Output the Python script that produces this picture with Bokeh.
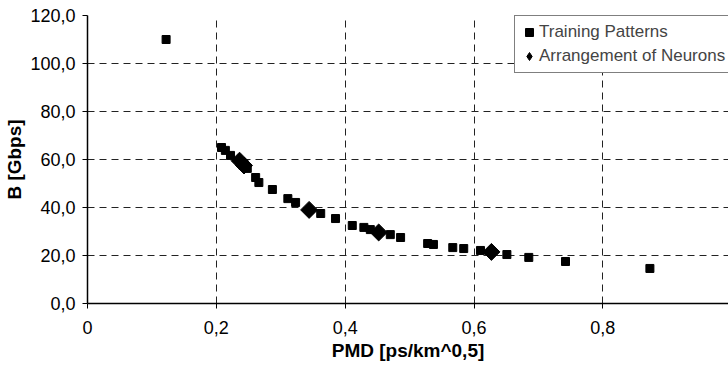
import numpy as np
from bokeh.plotting import figure
from bokeh.models import Range1d, FixedTicker, Legend, LegendItem
from bokeh.embed import file_html
from bokeh.resources import INLINE

# ---- data ----
pattern_pmd = [0.122, 0.208, 0.214, 0.222, 0.238, 0.242, 0.248, 0.261, 0.266,
               0.287, 0.311, 0.323, 0.362, 0.385, 0.411, 0.429, 0.439, 0.470,
               0.486, 0.528, 0.537, 0.567, 0.584, 0.610, 0.651, 0.685, 0.742,
               0.873]
pattern_b = [110.0, 65.0, 63.8, 61.7, 58.7, 57.5, 56.3, 52.5, 50.4,
             47.5, 43.7, 42.1, 37.5, 35.4, 32.5, 31.7, 30.8, 28.7,
             27.5, 25.0, 24.6, 23.3, 22.9, 22.1, 20.4, 19.2, 17.5,
             14.6]
neuron_pmd = [0.236, 0.243, 0.344, 0.452, 0.627]
neuron_b = [59.5, 57.5, 39.0, 29.6, 21.5]

x_ticks = [0, 0.2, 0.4, 0.6, 0.8, 1.0]
x_tick_labels = ["0", "0,2", "0,4", "0,6", "0,8", "1"]
y_ticks = [0, 20, 40, 60, 80, 100, 120]
y_tick_labels = ["0,0", "20,0", "40,0", "60,0", "80,0", "100,0", "120,0"]
series_names = ["Training Patterns", "Arrangement of Neurons"]
x_title = "PMD [ps/km^0,5]"
y_title = "B [Gbps]"

FONT = "Liberation Sans"

p = figure(width=728, height=369, output_backend="svg", toolbar_location=None,
           x_range=Range1d(0, 0.995), y_range=Range1d(0, 120),
           min_border_left=87, min_border_right=0, min_border_top=15,
           min_border_bottom=66)
p.outline_line_color = None
p.background_fill_color = "white"
p.border_fill_color = "white"

r1 = p.scatter(pattern_pmd, pattern_b, marker="square", size=8,
               fill_color="black", line_color="black")
r2 = p.scatter(neuron_pmd, neuron_b, marker="square", angle=np.pi / 4, size=12,
               fill_color="black", line_color="black")
# legend stand-in for the diamond series (not drawn in the plot)
r2_leg = p.scatter([np.nan], [np.nan], marker="diamond", size=12,
                   fill_color="black", line_color="black")

for ax, ticks, labels in ((p.xaxis[0], x_ticks, x_tick_labels),
                          (p.yaxis[0], y_ticks, y_tick_labels)):
    ax.ticker = FixedTicker(ticks=ticks)
    ax.major_label_overrides = {t: l for t, l in zip(ticks, labels)}
    ax.major_label_text_font = FONT
    ax.major_label_text_font_size = "18px"
    ax.major_label_text_color = "black"
    ax.axis_line_color = "black"
    ax.axis_line_width = 1.5
    ax.major_tick_line_color = "black"
    ax.major_tick_in = 0
    ax.major_tick_out = 5
    ax.minor_tick_line_color = None
    ax.axis_label_text_font = FONT
    ax.axis_label_text_font_size = "19px"
    ax.axis_label_text_font_style = "bold"
    ax.axis_label_text_color = "black"
p.xaxis.major_label_standoff = 12
p.yaxis.major_label_standoff = 7
p.xaxis.axis_label = x_title
p.yaxis.axis_label = y_title
p.xaxis.axis_label_standoff = 3
p.yaxis.axis_label_standoff = 2

p.xgrid.ticker = FixedTicker(ticks=[0.2, 0.4, 0.6, 0.8])
p.ygrid.ticker = FixedTicker(ticks=[20, 40, 60, 80, 100])
for g in (p.xgrid[0], p.ygrid[0]):
    g.grid_line_color = "#222222"
    g.grid_line_dash = "7 5"
    g.grid_line_width = 1

legend = Legend(items=[LegendItem(label=series_names[0], renderers=[r1]),
                       LegendItem(label=series_names[1], renderers=[r2_leg])],
                location=(427, 230), margin=0, padding=4, spacing=0,
                glyph_width=20, glyph_height=24, label_standoff=0,
                label_text_font=FONT, label_text_font_size="17px",
                label_height=20,
                border_line_color="black", border_line_width=1,
                background_fill_color="white", background_fill_alpha=1)
p.add_layout(legend)

open("out.html", "w").write(file_html(p, INLINE))
